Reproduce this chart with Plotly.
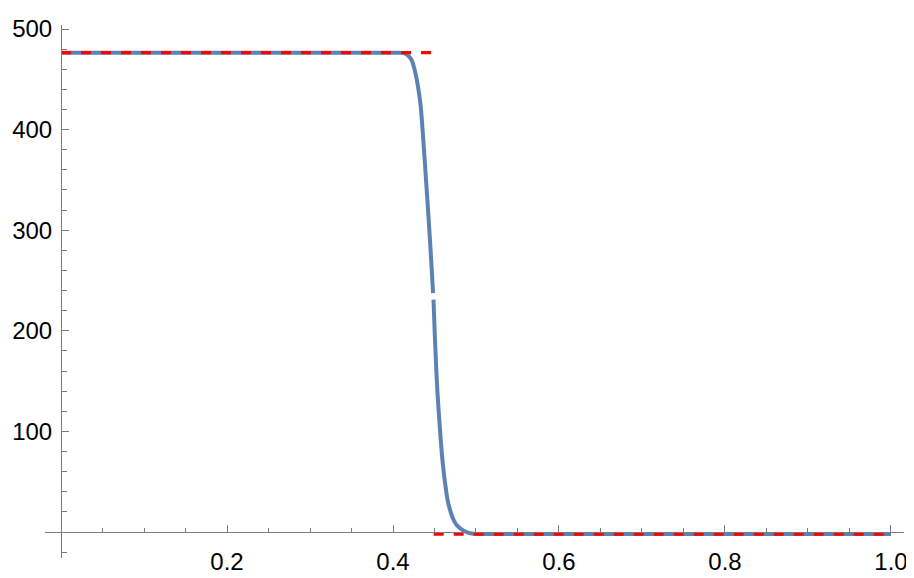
import plotly.graph_objects as go

# ---- Data ------------------------------------------------------------------

# blue transition curve (None marks the small break near the middle)
curve_x = [0.0, 0.10, 0.20, 0.30, 0.40, 0.4120, 0.4160, 0.4195, 0.4225, 0.4256,
           0.4286, 0.4312, 0.4334, 0.4365, 0.4406, 0.4446, 0.4483, None,
           0.4488, 0.4506, 0.4534, 0.4575, 0.4600, 0.4627, 0.4655, 0.4687,
           0.4725, 0.4767, 0.4830, 0.4888, 0.4950, 0.52, 0.60, 0.70, 0.80,
           0.90, 1.0]
curve_y = [476.5, 476.5, 476.5, 476.5, 476.5, 476.3, 475.0, 472.5, 469.0, 461.0,
           450.0, 437.0, 423.0, 390.0, 340.0, 290.0, 237.5, None,
           231.0, 191.0, 141.0, 92.0, 68.0, 49.0, 33.0, 22.0,
           13.0, 7.0, 2.5, 0.0, -1.5, -2.0, -2.0, -2.0, -2.0,
           -2.0, -2.0]

# red dashed asymptotes
upper_x = [0.0, 0.447]
upper_y = [476.5, 476.5]
lower_x = [0.449, 1.0]
lower_y = [-2.0, -2.0]

x_ticks = [0.2, 0.4, 0.6, 0.8, 1.0]
x_labels = ["0.2", "0.4", "0.6", "0.8", "1.0"]
x_minor = [0.05, 0.1, 0.15, 0.25, 0.3, 0.35, 0.45, 0.5, 0.55, 0.65, 0.7,
           0.75, 0.85, 0.9, 0.95]
y_ticks = [100, 200, 300, 400, 500]
y_minor = [-20, 20, 40, 60, 80, 120, 140, 160, 180, 220, 240, 260, 280,
           320, 340, 360, 380, 420, 440, 460, 480]

X_RANGE = [-0.0193, 1.0157]
Y_RANGE = [-25.8, 504.0]

AXIS_GRAY = "#7a7a7a"
FONT = dict(family="Liberation Sans, Arial, sans-serif", size=24, color="#000000")

# ---- Figure -----------------------------------------------------------------

fig = go.Figure()

fig.add_trace(go.Scatter(
    x=curve_x, y=curve_y, mode="lines",
    line=dict(color="#5E81B5", width=4, shape="spline", smoothing=0.8),
    connectgaps=False, hoverinfo="skip",
))
for xs, ys in ((upper_x, upper_y), (lower_x, lower_y)):
    fig.add_trace(go.Scatter(
        x=xs, y=ys, mode="lines",
        line=dict(color="#ff0000", width=3.4, dash="10px,10px"),
        hoverinfo="skip",
    ))

# axes cross at the origin, Mathematica style
x_pos = (0 - Y_RANGE[0]) / (Y_RANGE[1] - Y_RANGE[0])
y_pos = (0 - X_RANGE[0]) / (X_RANGE[1] - X_RANGE[0])

# page body adds an 8px offset, so the figure is 8px smaller and shifted
fig.update_layout(
    width=906, height=570,
    margin=dict(l=37, r=10, t=17, b=20, autoexpand=False),
    plot_bgcolor="white", paper_bgcolor="white",
    showlegend=False,
    font=FONT,
    xaxis=dict(
        range=X_RANGE, anchor="free", position=x_pos, automargin=False,
        showgrid=False, zeroline=False,
        showline=True, linecolor=AXIS_GRAY, linewidth=1,
        tickmode="array", tickvals=x_ticks, ticktext=x_labels,
        ticks="inside", ticklen=7, tickwidth=1, tickcolor=AXIS_GRAY,
        ticklabelstandoff=8,
        minor=dict(tickmode="array", tickvals=x_minor, ticks="inside",
                   ticklen=4.5, tickwidth=1, tickcolor=AXIS_GRAY, showgrid=False),
        tickfont=FONT,
    ),
    yaxis=dict(
        range=Y_RANGE, anchor="free", position=y_pos, automargin=False,
        showgrid=False, zeroline=False,
        showline=True, linecolor=AXIS_GRAY, linewidth=1,
        tickmode="array", tickvals=y_ticks,
        ticks="inside", ticklen=7, tickwidth=1, tickcolor=AXIS_GRAY,
        ticklabelstandoff=4,
        minor=dict(tickmode="array", tickvals=y_minor, ticks="inside",
                   ticklen=4.5, tickwidth=1, tickcolor=AXIS_GRAY, showgrid=False),
        tickfont=FONT,
    ),
)

fig.write_html("out.html")
